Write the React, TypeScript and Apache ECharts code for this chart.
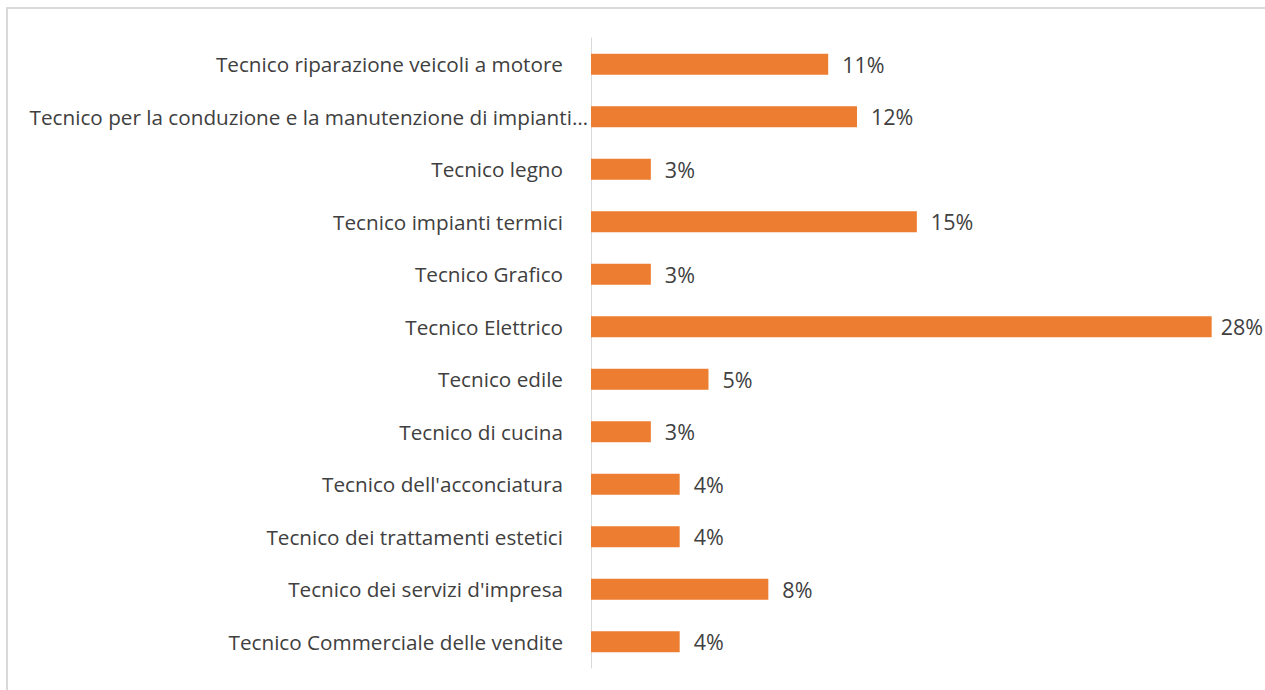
import React, { useEffect, useRef } from "react";
import * as echarts from "echarts";

const categories = [
  "Tecnico riparazione veicoli a motore",
  "Tecnico per la conduzione e la manutenzione di impianti…",
  "Tecnico legno",
  "Tecnico impianti termici",
  "Tecnico Grafico",
  "Tecnico Elettrico",
  "Tecnico edile",
  "Tecnico di cucina",
  "Tecnico dell'acconciatura",
  "Tecnico dei trattamenti estetici",
  "Tecnico dei servizi d'impresa",
  "Tecnico Commerciale delle vendite",
];
const values = [10.7, 12, 2.7, 14.7, 2.7, 28, 5.3, 2.7, 4, 4, 8, 4];
const truncatedLabel = categories[1];

export default function App() {
  const ref = useRef<HTMLDivElement>(null);
  useEffect(() => {
    if (!ref.current) return;
    const chart = echarts.init(ref.current, null, { renderer: "svg" });
    const font = "'Open Sans', sans-serif";
    const maxVal = Math.max(...values);
    chart.setOption({
      animation: false,
      backgroundColor: "#ffffff",
      graphic: [
        {
          type: "rect",
          shape: { x: 7, y: 8, width: 1400, height: 800 },
          style: { fill: "none", stroke: "#d9d9d9", lineWidth: 2 },
          silent: true,
        },
      ],
      grid: { left: 591, top: 38, bottom: 22, right: 9, containLabel: false },
      xAxis: {
        type: "value",
        min: 0,
        max: 30,
        show: false,
        splitLine: { show: false },
      },
      yAxis: {
        type: "category",
        inverse: true,
        data: categories,
        axisLine: { show: true, lineStyle: { color: "#d9d9d9", width: 1 } },
        axisTick: { show: false },
        axisLabel: {
          margin: 3,
          color: "#404040",
          fontSize: 20.7,
          fontFamily: font,
          formatter: (v: string) => (v === truncatedLabel ? `{l|${v}}` : `{n|${v}}`),
          rich: {
            n: { color: "#404040", fontSize: 20.7, fontFamily: font, padding: [0, 25, 0, 0] },
            l: { color: "#404040", fontSize: 20.7, fontFamily: font },
          },
        },
      },
      series: [
        {
          type: "bar",
          data: values.map((v) =>
            v === maxVal ? { value: v, label: { distance: 9 } } : v
          ),
          barWidth: 21,
          itemStyle: { color: "#ED7D31" },
          label: {
            show: true,
            position: "right",
            distance: 14,
            color: "#404040",
            fontSize: 21.5,
            fontFamily: font,
            formatter: (p: any) => `${Math.round(p.value)}%`,
          },
        },
      ],
    });
    return () => chart.dispose();
  }, []);
  return (
    <div
      ref={ref}
      style={{ position: "fixed", left: 0, top: 0, width: 1265, height: 690 }}
    />
  );
}
